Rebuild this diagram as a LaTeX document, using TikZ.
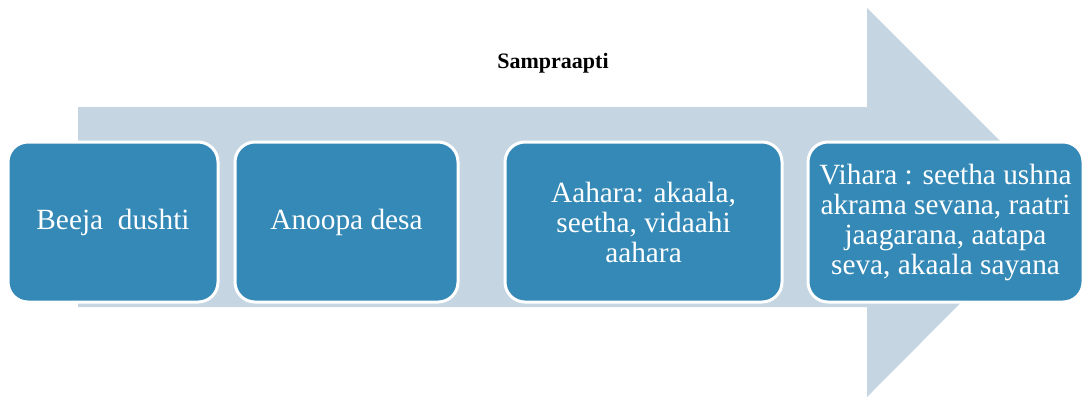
\documentclass[tikz,border=0pt]{standalone}
\usepackage{fontspec}
\setmainfont{Liberation Serif}
\definecolor{stageblue}{RGB}{52,137,182}
\definecolor{arrowblue}{RGB}{197,214,226}

\tikzset{every picture/.style={line width=0.75pt}}
\tikzset{
  stage/.style={draw=white, line width=2.25pt, fill=stageblue, rounded corners=15pt,
    text=white, align=center, inner sep=0pt, minimum height=120pt,
    font=\fontsize{22}{22.5}\selectfont\rmfamily},
  heading/.style={font=\fontsize{16.5}{19}\selectfont\rmfamily\bfseries}
}

\begin{document}
\begin{tikzpicture}[x=0.75pt,y=0.75pt,yscale=-1,xscale=1]
\useasboundingbox (0,0) rectangle (1084,405); %set diagram size

%Block Arrow
\fill [arrowblue] (78,107) -- (867,107) -- (867,8) -- (1061,202) -- (867,397) -- (867,307) -- (78,307) -- cycle ;

% Text Node
\node (title) at (553,63) [heading] {Sampraapti};

%Rounded Rect
\node (beeja) at (113,222) [stage, minimum width=157.5pt] {Beeja~ dushti};
%Rounded Rect
\node (anoopa) at (346.5,222) [stage, minimum width=167.25pt] {Anoopa desa};
%Rounded Rect
\node (aahara) at (643.5,222) [stage, minimum width=207.75pt] {Aahara: akaala,\\seetha, vidaahi\\aahara};
%Rounded Rect
\node (vihara) at (945.5,222) [stage, minimum width=206.25pt] {Vihara : seetha ushna\\akrama sevana, raatri\\jaagarana, aatapa\\seva, akaala sayana};

\end{tikzpicture}
\end{document}
